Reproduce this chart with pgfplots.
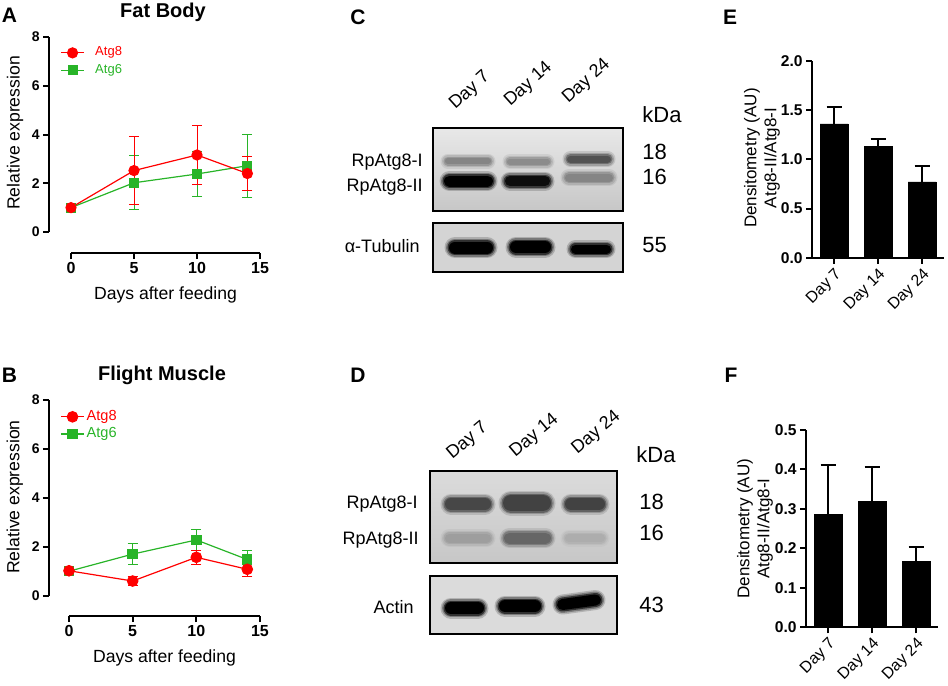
\documentclass[border=0pt]{standalone}
\usepackage{fontspec}
\setmainfont{Liberation Sans}
\usepackage{pgfplots}
\pgfplotsset{compat=1.18}
\definecolor{agreen}{RGB}{40,180,40}
\definecolor{ared}{RGB}{255,0,0}
% soft blot band: x1 y1 x2 y2 (centres of the round ends), h (px), colour
\newcommand{\seg}[6]{%
  \draw[line width=(#5+5)*0.5pt, line cap=round, #6, opacity=0.18] (#1,#2) -- (#3,#4);
  \draw[line width=(#5+2)*0.5pt, line cap=round, #6, opacity=0.3] (#1,#2) -- (#3,#4);
  \draw[line width=(#5-1)*0.5pt, line cap=round, #6, opacity=0.6] (#1,#2) -- (#3,#4);
  \draw[line width=(#5-4)*0.5pt, line cap=round, #6] (#1,#2) -- (#3,#4);}
\newcommand{\band}[5]{\seg{#1+#4/2}{#3}{#2-#4/2}{#3}{#4}{#5}}
\pgfplotsset{
  prism/.style={
    scale only axis, clip=false,
    axis lines=left,
    axis line style={-, line width=1pt, black},
    tick align=outside,
    major tick length=3pt,
    tick style={line width=1pt, black},
    /pgf/number format/assume math mode=true,
  },
  lineaxis/.style={
    prism,
    xmin=0, xmax=15, ymin=0, ymax=8,
    xtick={0,5,10,15}, ytick={0,2,4,6,8},
    xticklabel style={font=\bfseries\fontsize{8}{9}\selectfont, inner sep=1.5pt},
    yticklabel style={font=\bfseries\fontsize{7}{8}\selectfont, inner sep=1.5pt},
    xlabel={Days after feeding}, ylabel={Relative expression},
    legend cell align=left,
    reverse legend,
    legend image code/.code={\draw[mark repeat=2,mark phase=2,##1] plot coordinates {(0pt,0pt) (5.75pt,0pt) (11.5pt,0pt)};},
  },
  ebar/.style={error bars/.cd, y dir=both, y explicit,
    error bar style={line width=0.5pt},
    error mark options={rotate=90, mark size=2.5pt, line width=0.5pt}},
  baraxis/.style={
    prism,
    xmin=-0.5, xmax=2.5, ymin=0,
    ybar, bar width=14pt,
    xtick={0,1,2}, xticklabels={Day 7, Day 14, Day 24},
    xticklabel style={rotate=45, anchor=north east, font=\fontsize{8}{9}\selectfont, inner sep=1pt},
    yticklabel style={font=\bfseries\fontsize{7.8}{9}\selectfont, inner sep=1.5pt,
      /pgf/number format/.cd, fixed, fixed zerofill, precision=1},
    ylabel={Densitometry (AU)\\Atg8-II/Atg8-I},
  },
  bbar/.style={fill=black, draw=black,
    error bars/.cd, y dir=plus, y explicit,
    error bar style={line width=1pt, black},
    error mark options={rotate=90, mark size=3.75pt, line width=1pt, black}},
}
\begin{document}
\begin{tikzpicture}
\begin{scope}[x=0.5pt, y=-0.5pt]
\path[use as bounding box] (0,0) rectangle (948,682);
% panel letters and titles
\node[font=\bfseries\fontsize{10.5}{12}\selectfont] at (9.5,15) {A};
\node[font=\bfseries\fontsize{10.5}{12}\selectfont] at (9.5,375) {B};
\node[font=\bfseries\fontsize{10.5}{12}\selectfont] at (358,17) {C};
\node[font=\bfseries\fontsize{10.5}{12}\selectfont] at (358,375) {D};
\node[font=\bfseries\fontsize{10.5}{12}\selectfont] at (730,17) {E};
\node[font=\bfseries\fontsize{10.5}{12}\selectfont] at (731,375) {F};
\node[font=\bfseries\fontsize{10}{12}\selectfont] at (163,12) {Fat Body};
\node[font=\bfseries\fontsize{10}{12}\selectfont] at (162,375) {Flight Muscle};
% ---------- blot C ----------
\shade[top color=black!9, bottom color=black!22] (433,128) rectangle (623,211);
\band{443}{493}{161}{10}{black!48}
\band{505}{552}{161.5}{10}{black!45}
\band{565}{613}{159}{11}{black!68}
\band{442}{495}{181}{15}{black}
\band{503}{552}{181}{14}{black!95}
\band{563}{615}{177.5}{12}{black!48}
\draw[line width=1.2pt] (433,128) rectangle (623,211);
\fill[black!17] (433,223) rectangle (623,272);
\band{447}{495}{247.5}{16}{black}
\band{508}{553}{247}{16}{black}
\band{569}{613}{249}{13}{black}
\draw[line width=1.2pt] (433,223) rectangle (623,272);
\begin{scope}[font=\fontsize{9}{10}\selectfont, inner sep=0pt]
\node[anchor=east] at (423,162) {RpAtg8-I};
\node[anchor=east] at (423,187) {RpAtg8-II};
\node[anchor=east] at (420,246) {α-Tubulin};
\node[rotate=42, anchor=base west] at (455,110) {Day 7};
\node[rotate=42, anchor=base west] at (510,107) {Day 14};
\node[rotate=42, anchor=base west] at (568,104) {Day 24};
\end{scope}
\begin{scope}[font=\fontsize{11}{12}\selectfont, inner sep=0pt, anchor=west]
\node at (642,115) {kDa};
\node at (642,152) {18};
\node at (642,177) {16};
\node at (642,245) {55};
\end{scope}
% ---------- blot D ----------
\shade[top color=black!14, bottom color=black!22] (430,471) rectangle (617,563);
\band{443}{493}{504}{16}{black!72}
\band{501}{553}{503}{20}{black!74}
\band{563}{607}{504}{16}{black!74}
\band{443}{493}{538}{13}{black!38}
\band{502}{553}{538}{15}{black!60}
\band{563}{607}{538}{12}{black!32}
\draw[line width=1.2pt] (430,471) rectangle (617,563);
\fill[black!14] (430,576) rectangle (617,634);
\band{443}{486}{608}{16}{black}
\band{497}{543}{606}{16}{black}
\seg{562.5}{604.5}{595.5}{600}{15}{black}
\draw[line width=1.2pt] (430,576) rectangle (617,634);
\begin{scope}[font=\fontsize{9}{10}\selectfont, inner sep=0pt]
\node[anchor=east] at (418,504) {RpAtg8-I};
\node[anchor=east] at (419,540) {RpAtg8-II};
\node[anchor=east] at (414,607) {Actin};
\node[rotate=40, anchor=base west] at (452,460) {Day 7};
\node[rotate=40, anchor=base west] at (515,458) {Day 14};
\node[rotate=40, anchor=base west] at (577,455) {Day 24};
\end{scope}
\begin{scope}[font=\fontsize{11}{12}\selectfont, inner sep=0pt, anchor=west]
\node at (636,455) {kDa};
\node at (639,502) {18};
\node at (639,533) {16};
\node at (639,605) {43};
\end{scope}
\end{scope}

% ---------- panel A ----------
\begin{axis}[lineaxis,
  width=94.5pt, height=97.5pt, at={(35.5pt,-116pt)}, anchor=south west,
  axis x line shift=10.5pt, axis y line shift=11pt,
  every axis x label/.style={at={(axis description cs:0.5,-0.323)}, anchor=center, font=\fontsize{8.8}{10}\selectfont},
  every axis y label/.style={at={(axis description cs:-0.296,0.508)}, rotate=90, anchor=center, font=\fontsize{8.8}{10}\selectfont},
  legend style={draw=none, fill=none, at={(axis description cs:-0.058,0.965)}, anchor=north west,
    font=\fontsize{6.5}{7}\selectfont, inner sep=0pt, row sep=0pt, nodes={inner sep=1.3pt}},
]
\addplot[agreen, line width=0.6pt, mark=square*, mark size=2.2pt, ebar]
  coordinates {(0,1.0) +- (0,0.05) (5,2.02) +- (0,1.1) (10,2.38) +- (0,0.92) (14,2.72) +- (0,1.29)};
\addlegendentry{\hspace{4pt}\textcolor{agreen}{Atg6}}
\addplot[ared, line width=0.6pt, mark=*, mark size=2.5pt, ebar]
  coordinates {(0,1.0) +- (0,0.05) (5,2.52) +- (0,1.38) (10,3.16) +- (0,1.2) (14,2.40) +- (0,0.71)};
\addlegendentry{\hspace{4pt}\textcolor{ared}{Atg8}}
\end{axis}

% ---------- panel B ----------
\begin{axis}[lineaxis,
  width=95.5pt, height=97.85pt, at={(34.5pt,-297.85pt)}, anchor=south west,
  axis x line shift=10.2pt, axis y line shift=10pt,
  every axis x label/.style={at={(axis description cs:0.5,-0.318)}, anchor=center, font=\fontsize{8.8}{10}\selectfont},
  every axis y label/.style={at={(axis description cs:-0.283,0.504)}, rotate=90, anchor=center, font=\fontsize{8.8}{10}\selectfont},
  legend style={draw=none, fill=none, at={(axis description cs:-0.047,0.96)}, anchor=north west,
    font=\fontsize{7.3}{8}\selectfont, inner sep=0pt, row sep=0pt, nodes={inner sep=1pt}},
]
\addplot[agreen, line width=0.6pt, mark=square*, mark size=2.3pt, ebar]
  coordinates {(0,1.0) +- (0,0.05) (5,1.70) +- (0,0.42) (10,2.28) +- (0,0.44) (14,1.48) +- (0,0.36)};
\addlegendentry{\textcolor{agreen}{Atg6}}
\addplot[ared, line width=0.6pt, mark=*, mark size=2.6pt, ebar]
  coordinates {(0,1.02) +- (0,0.05) (5,0.60) +- (0,0.17) (10,1.57) +- (0,0.28) (14,1.08) +- (0,0.29)};
\addlegendentry{\textcolor{ared}{Atg8}}
\end{axis}

% ---------- panel E ----------
\begin{axis}[baraxis,
  width=66pt, height=98.35pt, at={(406pt,-128.85pt)}, anchor=south west,
  ymax=2, ytick={0,0.5,1,1.5,2},
  every axis y label/.style={at={(axis description cs:-0.379,0.507)}, rotate=90, anchor=center, align=center, font=\fontsize{8.5}{10}\selectfont},
]
\addplot[bbar] coordinates {(0,1.36) +- (0,0.17) (1,1.13) +- (0,0.08) (2,0.77) +- (0,0.16)};
\end{axis}

% ---------- panel F ----------
\begin{axis}[baraxis,
  width=66pt, height=98.65pt, at={(403pt,-313.65pt)}, anchor=south west,
  ymax=0.5, ytick={0,0.1,0.2,0.3,0.4,0.5},
  every axis y label/.style={at={(axis description cs:-0.386,0.5)}, rotate=90, anchor=center, align=center, font=\fontsize{8.5}{10}\selectfont},
]
\addplot[bbar] coordinates {(0,0.286) +- (0,0.125) (1,0.318) +- (0,0.087) (2,0.166) +- (0,0.038)};
\end{axis}
\end{tikzpicture}
\end{document}
